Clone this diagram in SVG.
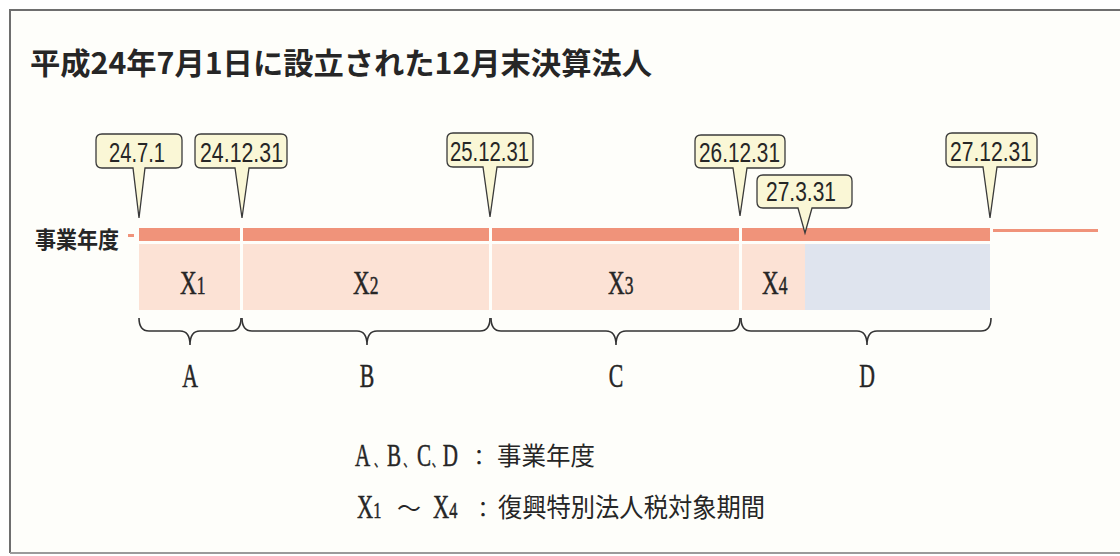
<svg xmlns="http://www.w3.org/2000/svg" width="1120" height="556" viewBox="0 0 1120 556">
<defs>
<style>
.sans{font-family:"Noto Sans CJK JP","Noto Sans",sans-serif;fill:#262626}
.num{font-family:"Liberation Sans",Arial,sans-serif;fill:#262626}
.serif{font-family:"Liberation Serif","Noto Sans CJK JP",serif;fill:#262626;stroke:#262626;stroke-width:0.5}
.callout{fill:#faf7d6;stroke:#3a3a3a;stroke-width:1.3}
.bar{fill:#f0937a}
.pink{fill:#fce2d5}
.blue{fill:#dfe4ee}
.brace{fill:none;stroke:#333;stroke-width:1.6}
</style>
</defs>
<rect x="0" y="0" width="1120" height="556" fill="#ffffff"/>
<rect x="10" y="10" width="1112" height="543" fill="#fefefa"/>
<path d="M10,553 V10 H1120" fill="none" stroke="#6e6e6e" stroke-width="2"/>
<line x1="10" y1="553" x2="1120" y2="553" stroke="#9a9a9a" stroke-width="2"/>

<g id="title">
<text class="sans" x="30" y="74" font-size="30" font-weight="700" textLength="622" lengthAdjust="spacingAndGlyphs">平成24年7月1日に設立された12月末決算法人</text>
</g>

<g id="timeline">
<text class="sans" x="35" y="248" font-size="23" font-weight="700" textLength="84" lengthAdjust="spacingAndGlyphs">事業年度</text>
<rect class="bar" x="128" y="234" width="6" height="3"/>
<rect class="bar" x="139" y="228" width="101" height="13"/>
<rect class="bar" x="243" y="228" width="246" height="13"/>
<rect class="bar" x="492" y="228" width="247" height="13"/>
<rect class="bar" x="742" y="228" width="248" height="13"/>
<rect class="bar" x="993" y="229" width="105" height="3"/>
</g>

<g id="periods">
<rect class="pink" x="139" y="244" width="101" height="66"/>
<rect class="pink" x="243" y="244" width="246" height="66"/>
<rect class="pink" x="492" y="244" width="247" height="66"/>
<rect class="pink" x="742" y="244" width="63" height="66"/>
<rect class="blue" x="805" y="244" width="185" height="66"/>
<g transform="translate(180,294) scale(0.7,1)"><text class="serif" x="0" y="0" font-size="33">X<tspan font-size="25">1</tspan></text></g>
<g transform="translate(353,294) scale(0.7,1)"><text class="serif" x="0" y="0" font-size="33">X<tspan font-size="25">2</tspan></text></g>
<g transform="translate(608,294) scale(0.7,1)"><text class="serif" x="0" y="0" font-size="33">X<tspan font-size="25">3</tspan></text></g>
<g transform="translate(762,294) scale(0.7,1)"><text class="serif" x="0" y="0" font-size="33">X<tspan font-size="25">4</tspan></text></g>
</g>

<g id="callouts">
<g id="c1"><path class="callout" d="M102,134 H176 Q182,134 182,140 V162 Q182,168 176,168 H145 L139,218 L133,168 H102 Q96,168 96,162 V140 Q96,134 102,134 Z"/><text class="num" x="109" y="162" font-size="27" textLength="56" lengthAdjust="spacingAndGlyphs">24.7.1</text></g>
<g id="c2"><path class="callout" d="M201,134 H281 Q287,134 287,140 V162 Q287,168 281,168 H249 L242,218 L235,168 H201 Q195,168 195,162 V140 Q195,134 201,134 Z"/><text class="num" x="200" y="162" font-size="27" textLength="83" lengthAdjust="spacingAndGlyphs">24.12.31</text></g>
<g id="c3"><path class="callout" d="M453,133 H527 Q533,133 533,139 V161 Q533,167 527,167 H497 L490,217 L483,167 H453 Q447,167 447,161 V139 Q447,133 453,133 Z"/><text class="num" x="450" y="161" font-size="27" textLength="79" lengthAdjust="spacingAndGlyphs">25.12.31</text></g>
<g id="c4"><path class="callout" d="M701,135 H779 Q785,135 785,141 V162 Q785,168 779,168 H747 L740,216 L733,168 H701 Q695,168 695,162 V141 Q695,135 701,135 Z"/><text class="num" x="699" y="162" font-size="27" textLength="81" lengthAdjust="spacingAndGlyphs">26.12.31</text></g>
<g id="c5"><path class="callout" d="M763,175 H846 Q852,175 852,181 V202 Q852,208 846,208 H812 L805,233 L798,208 H763 Q757,208 757,202 V181 Q757,175 763,175 Z"/><text class="num" x="766" y="201" font-size="27" textLength="70" lengthAdjust="spacingAndGlyphs">27.3.31</text></g>
<g id="c6"><path class="callout" d="M952,133 H1031 Q1037,133 1037,139 V161 Q1037,167 1031,167 H997 L990,218 L983,167 H952 Q946,167 946,161 V139 Q946,133 952,133 Z"/><text class="num" x="950" y="161" font-size="27" textLength="82" lengthAdjust="spacingAndGlyphs">27.12.31</text></g>
</g>

<g id="braces">
<path class="brace" d="M139,318 Q139,331 149,331 H180 Q190,331 190,345 Q190,331 200,331 H231 Q241,331 241,318"/>
<path class="brace" d="M242,318 Q242,331 252,331 H357 Q367,331 367,345 Q367,331 377,331 H480 Q490,331 490,318"/>
<path class="brace" d="M491,318 Q491,331 501,331 H606 Q616,331 616,345 Q616,331 626,331 H730 Q740,331 740,318"/>
<path class="brace" d="M741,318 Q741,331 751,331 H857 Q867,331 867,345 Q867,331 877,331 H981 Q991,331 991,318"/>
<g transform="translate(190,387) scale(0.66,1)"><text class="serif" x="0" y="0" font-size="33" text-anchor="middle">A</text></g>
<g transform="translate(367,387) scale(0.66,1)"><text class="serif" x="0" y="0" font-size="33" text-anchor="middle">B</text></g>
<g transform="translate(616,387) scale(0.66,1)"><text class="serif" x="0" y="0" font-size="33" text-anchor="middle">C</text></g>
<g transform="translate(867,387) scale(0.66,1)"><text class="serif" x="0" y="0" font-size="33" text-anchor="middle">D</text></g>
</g>

<g id="legend">
<g transform="translate(355,466) scale(0.68,1)">
<text class="serif" font-size="31" y="0"><tspan x="0">A</tspan><tspan x="28" font-size="16">、</tspan><tspan x="47">B</tspan><tspan x="71" font-size="16">、</tspan><tspan x="91">C</tspan><tspan x="113" font-size="16">、</tspan><tspan x="129">D</tspan></text>
</g>
<text class="sans" x="468" y="465" font-size="22">：</text>
<text class="sans" x="497" y="465" font-size="25" textLength="98" lengthAdjust="spacingAndGlyphs">事業年度</text>
<g transform="translate(357,518) scale(0.68,1)"><text class="serif" x="0" y="0" font-size="33">X<tspan font-size="24">1</tspan></text></g>
<text class="sans" x="397" y="517" font-size="24" textLength="24" lengthAdjust="spacingAndGlyphs">〜</text>
<g transform="translate(433,518) scale(0.68,1)"><text class="serif" x="0" y="0" font-size="33">X<tspan font-size="24">4</tspan></text></g>
<text class="sans" x="472" y="517" font-size="22">：</text>
<text class="sans" x="498" y="517" font-size="26" textLength="267" lengthAdjust="spacingAndGlyphs">復興特別法人税対象期間</text>
</g>
</svg>
